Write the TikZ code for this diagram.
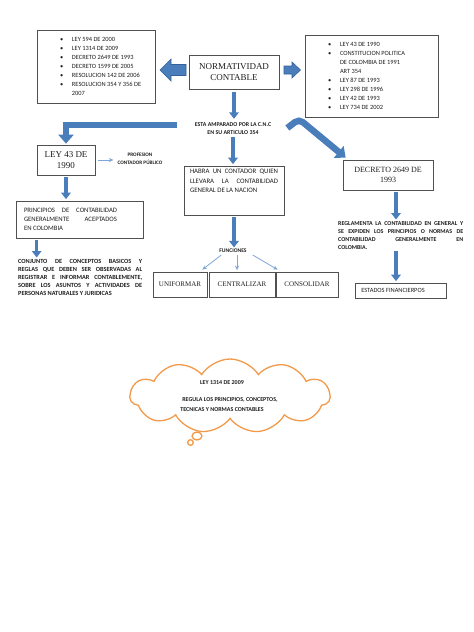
\documentclass[tikz,border=0pt]{standalone}
\usepackage{fontspec}
\setmainfont{Carlito}
\newfontfamily\serifface{Liberation Serif}
\usetikzlibrary{arrows.meta,shapes.symbols,shapes.callouts}
\definecolor{ablue}{HTML}{4A7EBB}
\definecolor{aedge}{HTML}{35609A}
\definecolor{tblue}{HTML}{7EA6D8}
\definecolor{txt}{HTML}{1E1E1E}
\definecolor{boxline}{HTML}{505050}
\definecolor{cloudor}{HTML}{F39A4A}
\newcommand\jl[2]{\makebox[#1][s]{#2}}
\newcommand\bl[2][12pt]{\hspace*{#1}\makebox[12pt][l]{\textbullet}#2}
\begin{document}
\begin{tikzpicture}[x=1pt,y=-1pt,
  box/.style={draw=boxline,line width=0.7pt,inner sep=0pt,text=txt},
  sbox/.style={box,align=center},
  down/.style={draw=ablue,line width=3.6pt,-{Triangle[width=9.5pt,length=6.5pt]},shorten <=2pt,shorten >=1.5pt},
  band/.style={draw=ablue,line width=6.5pt,-{Triangle[width=15pt,length=9pt]}},
  thinarr/.style={draw=tblue,line width=0.8pt,-{Stealth[length=4.5pt,width=4pt]}},
  sbold/.style={inner sep=0pt,align=center,text=txt,font=\bfseries\fontsize{5.9}{8}\selectfont},
  blockarr/.style={fill=ablue,draw=aedge,line width=0.6pt},
  cloudline/.style={draw=cloudor,line width=1.3pt}
]
\fill[white] (0,0) rectangle (474,632);
\useasboundingbox (0,0) rectangle (474,632);

% left list
\node[box,minimum width=118pt,minimum height=73pt,font=\fontsize{6.4}{9}\selectfont] (LL) at (96,66.5)
 {\parbox{96pt}{\bl{LEY 594 DE 2000}\\ \bl{LEY 1314 DE 2009}\\ \bl{DECRETO 2649 DE 1993}\\ \bl{DECRETO 1599 DE 2005}\\ \bl{RESOLUCION 142 DE 2006}\\ \bl{RESOLUCION 354 Y 356 DE}\\ \hspace*{24pt}2007}};

% right list
\node[box,minimum width=133pt,minimum height=82pt,font=\fontsize{6.4}{9}\selectfont] (RL) at (371.5,76)
 {\parbox{113pt}{\bl[13pt]{LEY 43 DE 1990}\\ \bl[13pt]{CONSTITUCION POLITICA}\\ \hspace*{25pt}DE COLOMBIA DE 1991\\ \hspace*{25pt}ART 354\\ \bl[13pt]{LEY 87 DE 1993}\\ \bl[13pt]{LEY 298 DE 1996}\\ \bl[13pt]{LEY 42 DE 1993}\\ \bl[13pt]{LEY 734 DE 2002}}};

% center
\node[sbox,minimum width=90pt,minimum height=34pt,font=\serifface\fontsize{9}{11}\selectfont] (N) at (234,72) {NORMATIVIDAD\\CONTABLE};
\filldraw[blockarr] (186,64.5) -- (171,64.5) -- (171,59) -- (160,70) -- (171,81) -- (171,75.5) -- (186,75.5) -- cycle;
\filldraw[blockarr] (284,66) -- (292,66) -- (292,62) -- (300.5,70) -- (292,78) -- (292,74) -- (284,74) -- cycle;

\node[sbold] (E) at (233,129) {ESTA AMPARADO POR LA C.N.C\\EN SU ARTICULO 354};
\draw[down,shorten <=3pt,shorten >=4pt] (N.south) -- (N.south |- E.north);

\node[box,minimum width=100pt,minimum height=49pt,font=\fontsize{6.8}{9.5}\selectfont] (H) at (234,190.5)
 {\parbox[c][42pt][t]{88pt}{\jl{88pt}{HABRA UN CONTADOR QUIEN}\\ \jl{88pt}{LLEVARA LA CONTABILIDAD}\\ GENERAL DE LA NACION}};
\draw[down] (E.south) -- (E.south |- H.north);

% left branch
\node[sbox,minimum width=58pt,minimum height=30pt,font=\serifface\fontsize{9}{11}\selectfont] (L43) at (66,160) {LEY 43 DE\\1990};
\coordinate (es) at ([xshift=-18pt,yshift=4pt]E.west);
\draw[band,shorten >=1pt] (es) -| (L43.north);

\node[sbold,font=\bfseries\fontsize{5.2}{8}\selectfont] (P) at (140,159) {PROFESION\\CONTADOR PÚBLICO};
\coordinate (pw) at ([xshift=-4pt]P.west);
\draw[thinarr] ([xshift=3pt]L43.east) -- (pw |- L43.east);

\node[box,minimum width=127pt,minimum height=37pt,font=\fontsize{6.7}{9}\selectfont] (PR) at (79.5,219.5)
 {\parbox{93pt}{\jl{93pt}{PRINCIPIOS DE CONTABILIDAD}\\ \jl{93pt}{GENERALMENTE ACEPTADOS}\\ EN COLOMBIA}\hspace*{18pt}};
\draw[down] (L43.south) -- (L43.south |- PR.north);

\node[anchor=north west,inner sep=0pt,text=txt,font=\bfseries\fontsize{6.3}{8}\selectfont] (CJ) at (18,259)
 {\parbox{124pt}{\jl{124pt}{CONJUNTO DE CONCEPTOS BASICOS Y}\\ \jl{124pt}{REGLAS QUE DEBEN SER OBSERVADAS AL}\\ \jl{124pt}{REGISTRAR E INFORMAR CONTABLEMENTE,}\\ \jl{124pt}{SOBRE LOS ASUNTOS Y ACTIVIDADES DE}\\ PERSONAS NATURALES Y JURIDICAS}};
\coordinate (pa) at ([xshift=21pt]PR.south west);
\draw[down] (pa) -- (pa |- CJ.north);

% funciones
\node[sbold,font=\bfseries\fontsize{5.6}{8}\selectfont] (F) at (233,251) {FUNCIONES};
\draw[down] (H.south) -- (H.south |- F.north);
\node[sbox,minimum width=54pt,minimum height=25pt,font=\serifface\fontsize{7}{9}\selectfont] (U) at (180,284.5) {UNIFORMAR};
\node[sbox,minimum width=66pt,minimum height=25pt,font=\serifface\fontsize{7}{9}\selectfont] (C) at (242,284.5) {CENTRALIZAR};
\node[sbox,minimum width=62pt,minimum height=25pt,font=\serifface\fontsize{7}{9}\selectfont] (K) at (307,284.5) {CONSOLIDAR};
\draw[thinarr] ([shift={(2pt,-2pt)}]F.south west) -- ([shift={(-5pt,2pt)}]U.north east);
\draw[thinarr] ([shift={(4pt,-2pt)}]F.south) -- ([shift={(-5pt,1.5pt)}]C.north);
\draw[thinarr] ([shift={(6pt,-2pt)}]F.south east) -- ([shift={(2pt,2pt)}]K.north west);

% right branch
\node[sbox,minimum width=90pt,minimum height=30pt,font=\serifface\fontsize{8}{10}\selectfont] (D) at (388,175) {DECRETO 2649 DE\\1993};
\coordinate (bend) at (299,119);
\draw[band,rounded corners=5pt] ([xshift=16pt,yshift=1pt]E.east) -- (bend) -- ([shift={(3pt,2pt)}]D.north west);
\coordinate (pd) at ([xshift=8pt]D.south);
\node[anchor=north west,inner sep=0pt,text=txt,font=\bfseries\fontsize{6}{8}\selectfont] (R) at (338,221)
 {\parbox{125pt}{\jl{125pt}{REGLAMENTA LA CONTABILIDAD EN GENERAL Y}\\ \jl{125pt}{SE EXPIDEN LOS PRINCIPIOS O NORMAS DE}\\ \jl{125pt}{CONTABILIDAD GENERALMENTE EN}\\ COLOMBIA.}};
\draw[down] (pd) -- (pd |- R.north);
\node[box,minimum width=91pt,minimum height=15pt,font=\fontsize{6.4}{8}\selectfont] (ES) at (400.5,290.5) {ESTADOS FINANCIERPOS\hspace*{15pt}};
\draw[down] (pd |- R.south) -- (pd |- ES.north);

% cloud
\node[cloud,cloudline,cloud puffs=11,cloud puff arc=115,aspect=2.8,
  minimum width=200pt,minimum height=74pt,inner sep=0pt,text=txt,
  align=center,font=\bfseries\fontsize{6}{9.5}\selectfont] (CL) at (230,396)
 {LEY 1314 DE 2009\hspace*{16pt}\\[8pt]REGULA LOS PRINCIPIOS, CONCEPTOS,\hspace*{16pt}\\TECNICAS Y NORMAS CONTABLES\hspace*{16pt}};
\draw[cloudline,fill=white] (197,436) ellipse (5pt and 4pt);
\draw[cloudline,fill=white] (190.5,442.5) circle (2.8pt);
\end{tikzpicture}
\end{document}
